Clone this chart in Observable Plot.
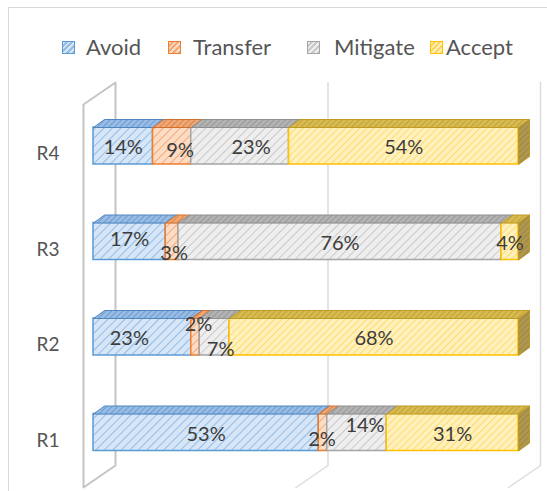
<!DOCTYPE html>
<html><head><meta charset="utf-8">
<script src="https://cdn.jsdelivr.net/npm/d3@7"></script>
<script src="https://cdn.jsdelivr.net/npm/@observablehq/plot@0.6"></script>
<style>
html,body{margin:0;padding:0;background:#fff;}
#wrap{position:relative;width:547px;height:491px;overflow:hidden;background:#fff;font-family:Lato,"Open Sans",sans-serif;}
#frame{position:absolute;left:8px;top:7px;width:700px;height:700px;border:1.5px solid #d9d9d9;box-sizing:border-box;}
#legend{position:absolute;left:0;top:0;width:547px;height:70px;}
.sw{position:absolute;top:41px;width:13px;height:13px;box-sizing:border-box;border:1.5px solid;}
.lt{position:absolute;top:34px;font-size:22px;line-height:26px;color:#555;}
#chart{position:absolute;left:0;top:70px;}
</style></head>
<body>
<svg width="0" height="0" style="position:absolute">
<defs id="defs"></defs>
</svg>
<div id="wrap">
  <div id="frame"></div>
  <div id="legend"></div>
  <div id="chart"></div>
</div>
<script>
// ---- data ----
const categories = ["R1", "R2", "R3", "R4"];
const series = ["Avoid", "Transfer", "Mitigate", "Accept"];
const avoid    = [53, 23, 17, 14];
const transfer = [2, 2, 3, 9];
const mitigate = [14, 7, 76, 23];
const accept   = [31, 68, 4, 54];
const gridTicks = [0, 50, 100];

// ---- styles ----
const values = [avoid, transfer, mitigate, accept];
const keys = ["A", "T", "M", "Y"];
const strokeCol = {A: "#5b9bd5", T: "#ed7d31", M: "#a5a5a5", Y: "#ffc000"};
const topStroke = {A: "#4f86c0", T: "#d0702e", M: "#8f8f8f", Y: "#c09a25"};
const pats = {
  fA: ["#d6e6f7", "#95bde6", 6, 2],
  fT: ["#fcdcc4", "#f3a978", 6, 2],
  fM: ["#eeeeee", "#c9c9c9", 6, 2],
  fY: ["#fff1bd", "#ffd659", 5, 1.6],
  tA: ["#98bce4", "#5e90cc", 4, 1.5],
  tT: ["#eea775", "#d47b3c", 4, 1.5],
  tM: ["#b3b3b3", "#8f8f8f", 4, 1.5],
  tY: ["#d8bb50", "#b99a31", 4, 1.5],
  sY: ["#b09750", "#94803e", 4, 1.5]
};
document.getElementById("defs").innerHTML = Object.entries(pats).map(([id, [bg, ln, s, w]]) =>
  `<pattern id="${id}" patternUnits="userSpaceOnUse" width="${s}" height="${s}" patternTransform="rotate(45)"><rect width="${s}" height="${s}" fill="${bg}"/><line x1="0" y1="0" x2="0" y2="${s}" stroke="${ln}" stroke-width="${w}"/></pattern>`
).join("");

// ---- legend ----
const swLeft = [62, 168, 307, 430];
const txLeft = [86, 193, 334, 446];
const legend = document.getElementById("legend");
series.forEach((s, j) => {
  const k = keys[j];
  const sw = document.createElement("div");
  sw.className = "sw";
  sw.style.left = swLeft[j] + "px";
  sw.style.borderColor = strokeCol[k];
  sw.style.background = `repeating-linear-gradient(-45deg, ${pats["f" + k][1]} 0 2px, ${pats["f" + k][0]} 2px 4px)`;
  legend.appendChild(sw);
  const t = document.createElement("div");
  t.className = "lt";
  t.style.left = txLeft[j] + "px";
  t.textContent = s;
  legend.appendChild(t);
});

// ---- geometry helpers (pixels -> data units) ----
const W = 547, Hh = 421;
const mL = 93, mR = 29, mT = 27.75, mB = 11.25;
const kx = (W - mL - mR) / 100;               // px per %
const ky = (Hh - mT - mB) / 4;                // px per category step
const half = 18.5 / ky;                       // half bar height
const DX = 11 / kx, DY = 8 / ky;              // bar depth
const backX = 22 / kx, frontX = -10 / kx;     // wall depth
const yBackTop = 4.5 + (mT - 12) / ky, yFrontTop = 4.5 - (34 - mT) / ky;
const yBackBot = 0.5 + (Hh - mB - 395) / ky, yFrontBot = 0.5 - (417 - (Hh - mB)) / ky;

// segments
const segs = [];
categories.forEach((c, i) => {
  let acc = 0;
  series.forEach((s, j) => {
    const v = values[j][i];
    segs.push({cat: c, yi: i + 1, series: s, k: keys[j], j, x1: acc, x2: acc + v, v, last: j === series.length - 1});
    acc += v;
  });
});

// top faces
const tops = [];
segs.forEach((d, n) => {
  const yt = d.yi + half;
  [[d.x1, yt], [d.x2, yt], [d.x2 + DX, yt + DY], [d.x1 + DX, yt + DY], [d.x1, yt]]
    .forEach(([x, y]) => tops.push({id: n, k: d.k, x, y}));
});
// side faces (end of bar)
const sides = [];
segs.filter(d => d.last).forEach((d, n) => {
  const yt = d.yi + half, yb = d.yi - half;
  [[d.x2, yt], [d.x2 + DX, yt + DY], [d.x2 + DX, yb + DY], [d.x2, yb], [d.x2, yt]]
    .forEach(([x, y]) => sides.push({id: n, x, y}));
});
// walls / gridlines
const wall = [[frontX, yFrontTop], [backX, yBackTop], [backX, yBackBot], [frontX, yFrontBot], [frontX, yFrontTop]]
  .map(([x, y]) => ({x, y}));
const grid = [];
gridTicks.filter(t => t > 0).forEach(t => {
  [[t + backX, yBackTop], [t + backX, yBackBot], [t + frontX, yFrontBot]].forEach(([x, y]) => grid.push({t, x, y}));
});

// label nudges (pixels) for crowded labels
const nudge = {
  "R4|Transfer": [8, 3], "R4|Mitigate": [11, 0],
  "R3|Avoid": [0, -4], "R3|Transfer": [2, 10],
  "R2|Avoid": [-13, 0], "R2|Transfer": [3, -14], "R2|Mitigate": [6, 11],
  "R1|Transfer": [-1, 5], "R1|Mitigate": [8, -9]
};
const labels = segs.map(d => {
  const [nx, ny] = nudge[d.cat + "|" + d.series] || [0, 0];
  return {x: (d.x1 + d.x2) / 2 + nx / kx, y: d.yi - (2 + ny) / ky, text: d.v + "%"};
});

const marks = [
  Plot.line(grid, {x: "x", y: "y", z: "t", stroke: "#dcdcdc", strokeWidth: 1.5}),
  Plot.line(wall, {x: "x", y: "y", fill: "#fff", stroke: "#c4c4c4", strokeWidth: 2})
];
keys.forEach(k => {
  marks.push(Plot.rect(segs.filter(d => d.k === k), {
    x1: "x1", x2: "x2", y1: d => d.yi - half, y2: d => d.yi + half,
    fill: `url(#f${k})`, stroke: strokeCol[k], strokeWidth: 1.5
  }));
});
keys.forEach(k => {
  marks.push(Plot.line(tops.filter(d => d.k === k), {
    x: "x", y: "y", z: "id", fill: `url(#t${k})`, stroke: topStroke[k], strokeWidth: 1
  }));
});
marks.push(Plot.line(sides, {x: "x", y: "y", z: "id", fill: "url(#sY)", stroke: "#c09a25", strokeWidth: 1}));
marks.push(Plot.text(labels, {x: "x", y: "y", text: "text", fontSize: 20, fill: "#3c3c3c"}));
marks.push(Plot.axisY([1, 2, 3, 4], {
  tickFormat: i => categories[i - 1], tickSize: 0, tickPadding: 34, dy: 8,
  fontSize: 19, fill: "#555", label: null
}));

const chart = Plot.plot({
  width: W, height: Hh,
  marginLeft: mL, marginRight: mR, marginTop: mT, marginBottom: mB,
  x: {domain: [0, 100], axis: null},
  y: {domain: [0.5, 4.5], label: null},
  style: {fontFamily: "Lato, 'Open Sans', sans-serif", background: "transparent", overflow: "visible"},
  marks
});
document.getElementById("chart").appendChild(chart);
</script>
</body></html>
